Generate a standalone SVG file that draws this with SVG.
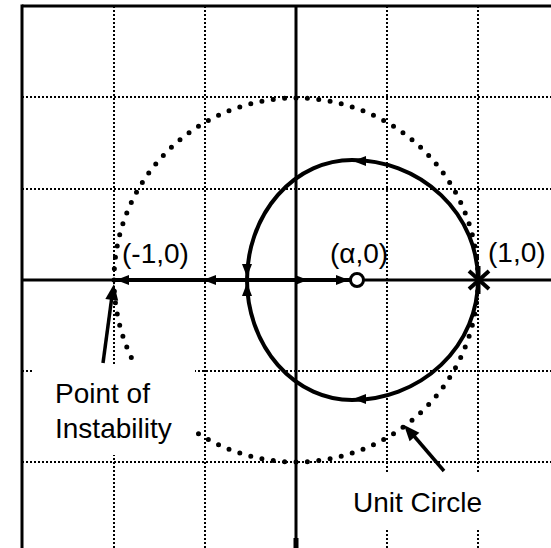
<svg xmlns="http://www.w3.org/2000/svg" xmlns:xlink="http://www.w3.org/1999/xlink" width="551" height="548" viewBox="0 0 551 548">
<style>
.grid{stroke:#000;stroke-width:2;stroke-dasharray:2 2;fill:none}
.axis{stroke:#000;stroke-width:3;fill:none}
.locus{stroke:#000;stroke-width:4;fill:none}
.lbl{font-family:"Liberation Sans",Arial,sans-serif;font-size:28px;fill:#000}
.mask{fill:#fff;stroke:none}
</style>
<defs>
<path id="tri" d="M0,0 L-13,-5 L-13,5 Z" fill="#000"/>
<path id="tri2" d="M0,0 L-16,-6.5 L-16,6.5 Z" fill="#000"/>
</defs>
<rect width="551" height="548" fill="#fff"/>
<g id="grid">
<line class="grid" x1="114" y1="6" x2="114" y2="548"/>
<line class="grid" x1="205" y1="6" x2="205" y2="548"/>
<line class="grid" x1="387" y1="6" x2="387" y2="548"/>
<line class="grid" x1="478" y1="6" x2="478" y2="548"/>
<line class="grid" x1="22" y1="97" x2="551" y2="97"/>
<line class="grid" x1="22" y1="189" x2="551" y2="189"/>
<line class="grid" x1="22" y1="371" x2="551" y2="371"/>
<line class="grid" x1="22" y1="462" x2="551" y2="462"/>
</g>
<g id="frame">
<line class="axis" x1="22" y1="6" x2="551" y2="6"/>
<line class="axis" x1="22" y1="4.5" x2="22" y2="548"/>
<line class="axis" x1="296" y1="6" x2="296" y2="548"/>
<rect x="293.5" y="538" width="5" height="10" fill="#000"/>
<line class="axis" x1="22" y1="280" x2="551" y2="280"/>
</g>
<g id="unit-circle">
<circle cx="296" cy="280" r="182" pathLength="100" fill="none" stroke="#000" stroke-width="5" stroke-linecap="round" stroke-dasharray="0 1"/>
</g>
<g id="masks">
<rect class="mask" x="34" y="364" width="161" height="91"/>
<rect class="mask" x="340" y="472" width="160" height="58"/>
</g>
<g id="connectors">
<path class="locus" d="M478,280 A126,120 0 0 0 352,160 A105,120 0 0 0 247,280"/>
<path class="locus" d="M478,280 A126,120 0 0 1 352,400 A105,120 0 0 1 247,280"/>
<line class="locus" x1="114" y1="280" x2="350" y2="280"/>
<use xlink:href="#tri" transform="translate(116,280) rotate(180)"/>
<use xlink:href="#tri" transform="translate(203,280) rotate(180)"/>
<use xlink:href="#tri" transform="translate(247,277) rotate(90)"/>
<use xlink:href="#tri" transform="translate(247,283) rotate(-90)"/>
<use xlink:href="#tri" transform="translate(308,280)"/>
<use xlink:href="#tri" transform="translate(349,280)"/>
<use xlink:href="#tri" transform="translate(353,161) rotate(180)"/>
<use xlink:href="#tri" transform="translate(353,399) rotate(180)"/>
<line stroke="#000" stroke-width="3.5" x1="103" y1="363" x2="112" y2="296"/>
<use xlink:href="#tri2" transform="translate(114,284) rotate(-82)"/>
<line stroke="#000" stroke-width="3.5" x1="444" y1="471" x2="414" y2="436"/>
<use xlink:href="#tri2" transform="translate(404,425) rotate(-131)"/>
</g>
<g id="zero">
<circle cx="357" cy="280" r="6.5" fill="#fff" stroke="#000" stroke-width="3"/>
</g>
<g id="pole">
<line stroke="#000" stroke-width="4" x1="469" y1="271" x2="489" y2="289"/>
<line stroke="#000" stroke-width="4" x1="469" y1="289" x2="489" y2="271"/>
<line stroke="#000" stroke-width="3" x1="479" y1="266" x2="479" y2="294"/>
</g>
<g id="labels">
<text class="lbl" x="122" y="263">(-1,0)</text>
<text class="lbl" x="330" y="263">(α,0)</text>
<text class="lbl" x="488" y="262">(1,0)</text>
<text class="lbl" x="55" y="403">Point of</text>
<text class="lbl" x="55" y="438">Instability</text>
<text class="lbl" x="353" y="512">Unit Circle</text>
</g>
</svg>
